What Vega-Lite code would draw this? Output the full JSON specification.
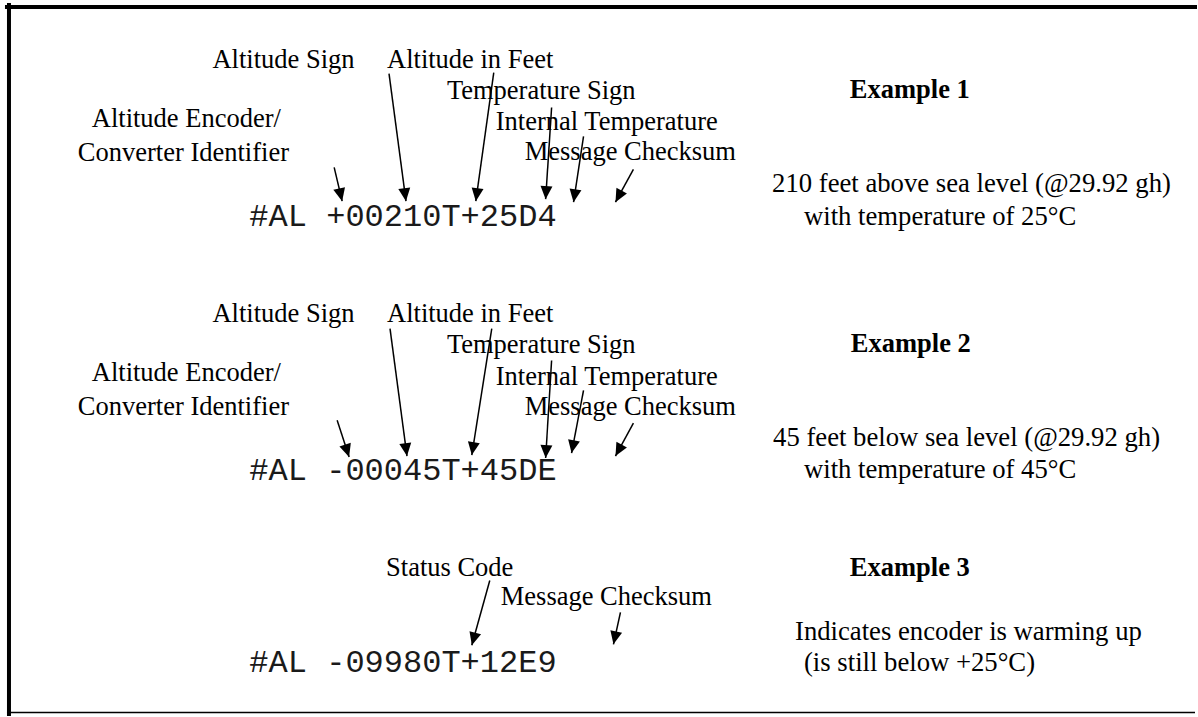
{
  "$schema": "https://vega.github.io/schema/vega-lite/v6.json",
  "width": 1198,
  "height": 717,
  "autosize": {"type": "fit", "contains": "padding"},
  "padding": 0,
  "background": "white",
  "config": {"view": {"stroke": null}},
  "datasets": {
    "frame": [
      {"edge": "thick", "x": 7, "y": 7, "x2": 1198, "y2": 7},
      {"edge": "thick", "x": 9, "y": 5, "x2": 9, "y2": 717},
      {"edge": "thin", "x": 7, "y": 715.5, "x2": 1198, "y2": 715.5}
    ],
    "arrows": [
      {"x1": 335, "y1": 168, "x2": 343, "y2": 202},
      {"x1": 390, "y1": 74, "x2": 407, "y2": 202},
      {"x1": 495, "y1": 73, "x2": 477, "y2": 202},
      {"x1": 553, "y1": 108, "x2": 547, "y2": 200},
      {"x1": 585, "y1": 137, "x2": 575, "y2": 203},
      {"x1": 635, "y1": 170, "x2": 617, "y2": 203},
      {"x1": 338, "y1": 422, "x2": 350, "y2": 459},
      {"x1": 391, "y1": 330, "x2": 408, "y2": 458},
      {"x1": 493, "y1": 330, "x2": 473, "y2": 457},
      {"x1": 553, "y1": 362, "x2": 547, "y2": 460},
      {"x1": 585, "y1": 392, "x2": 573, "y2": 455},
      {"x1": 635, "y1": 425, "x2": 617, "y2": 458},
      {"x1": 491, "y1": 583, "x2": 473, "y2": 648},
      {"x1": 622, "y1": 615, "x2": 615, "y2": 647}
    ],
    "texts": [
      {"kind": "label", "label": "Altitude Sign", "x": 213, "y": 68},
      {"kind": "label", "label": "Altitude in Feet", "x": 388, "y": 68},
      {"kind": "label", "label": "Temperature Sign", "x": 448, "y": 99},
      {"kind": "label", "label": "Altitude Encoder/", "x": 92, "y": 128},
      {"kind": "label", "label": "Internal Temperature", "x": 497, "y": 131},
      {"kind": "label", "label": "Converter Identifier", "x": 78, "y": 162},
      {"kind": "label", "label": "Message Checksum", "x": 526, "y": 161},
      {"kind": "label", "label": "Altitude Sign", "x": 213, "y": 323},
      {"kind": "label", "label": "Altitude in Feet", "x": 388, "y": 323},
      {"kind": "label", "label": "Temperature Sign", "x": 448, "y": 354},
      {"kind": "label", "label": "Altitude Encoder/", "x": 92, "y": 383},
      {"kind": "label", "label": "Internal Temperature", "x": 497, "y": 387},
      {"kind": "label", "label": "Converter Identifier", "x": 78, "y": 417},
      {"kind": "label", "label": "Message Checksum", "x": 526, "y": 417},
      {"kind": "label", "label": "Status Code", "x": 387, "y": 578},
      {"kind": "label", "label": "Message Checksum", "x": 502, "y": 608},
      {"kind": "heading", "label": "Example 1", "x": 852, "y": 98},
      {"kind": "heading", "label": "Example 2", "x": 853, "y": 353},
      {"kind": "heading", "label": "Example 3", "x": 852, "y": 578},
      {"kind": "code", "label": "#AL +00210T+25D4", "x": 250, "y": 227},
      {"kind": "code", "label": "#AL -00045T+45DE", "x": 250, "y": 482},
      {"kind": "code", "label": "#AL -09980T+12E9", "x": 250, "y": 675},
      {"kind": "note", "label": "210 feet above sea level (@29.92 gh)", "x": 774, "y": 193},
      {"kind": "note", "label": "with temperature of 25°C", "x": 806, "y": 226},
      {"kind": "note", "label": "45 feet below sea level (@29.92 gh)", "x": 775, "y": 448},
      {"kind": "note", "label": "with temperature of 45°C", "x": 806, "y": 480},
      {"kind": "note", "label": "Indicates encoder is warming up", "x": 797, "y": 643},
      {"kind": "note", "label": "(is still below +25°C)", "x": 806, "y": 674}
    ]
  },
  "layer": [
    {
      "data": {"name": "frame"},
      "transform": [{"filter": "datum.edge === 'thick'"}],
      "mark": {"type": "rule", "color": "black", "strokeWidth": 4, "strokeCap": "square"},
      "encoding": {
        "x": {"field": "x", "type": "quantitative", "scale": {"domain": [0, 1198], "nice": false, "zero": false}, "axis": null},
        "y": {"field": "y", "type": "quantitative", "scale": {"domain": [0, 717], "nice": false, "zero": false, "reverse": true}, "axis": null},
        "x2": {"field": "x2"},
        "y2": {"field": "y2"}
      }
    },
    {
      "data": {"name": "frame"},
      "transform": [{"filter": "datum.edge === 'thin'"}],
      "mark": {"type": "rule", "color": "black", "strokeWidth": 1.6},
      "encoding": {
        "x": {"field": "x", "type": "quantitative", "scale": {"domain": [0, 1198], "nice": false, "zero": false}, "axis": null},
        "y": {"field": "y", "type": "quantitative", "scale": {"domain": [0, 717], "nice": false, "zero": false, "reverse": true}, "axis": null},
        "x2": {"field": "x2"},
        "y2": {"field": "y2"}
      }
    },
    {
      "data": {"name": "arrows"},
      "mark": {"type": "rule", "color": "black", "strokeWidth": 1.5},
      "encoding": {
        "x": {"field": "x1", "type": "quantitative", "scale": {"domain": [0, 1198], "nice": false, "zero": false}, "axis": null},
        "y": {"field": "y1", "type": "quantitative", "scale": {"domain": [0, 717], "nice": false, "zero": false, "reverse": true}, "axis": null},
        "x2": {"field": "x2"},
        "y2": {"field": "y2"}
      }
    },
    {
      "data": {"name": "arrows"},
      "transform": [{"calculate": "atan2(-(datum.x2 - datum.x1), datum.y2 - datum.y1) * 180 / PI", "as": "ang"}],
      "mark": {"type": "point", "shape": "M-0.46,-1L0.46,-1L0,0Z", "filled": true, "size": 676, "color": "black", "opacity": 1, "strokeWidth": 0},
      "encoding": {
        "x": {"field": "x2", "type": "quantitative", "scale": {"domain": [0, 1198], "nice": false, "zero": false}, "axis": null},
        "y": {"field": "y2", "type": "quantitative", "scale": {"domain": [0, 717], "nice": false, "zero": false, "reverse": true}, "axis": null},
        "angle": {"field": "ang", "type": "quantitative", "scale": null}
      }
    },
    {
      "data": {"name": "texts"},
      "transform": [{"filter": "datum.kind === 'label'"}],
      "mark": {"type": "text", "font": "Liberation Serif", "fontSize": 26.5, "align": "left", "baseline": "alphabetic", "color": "black"},
      "encoding": {
        "x": {"field": "x", "type": "quantitative", "scale": {"domain": [0, 1198], "nice": false, "zero": false}, "axis": null},
        "y": {"field": "y", "type": "quantitative", "scale": {"domain": [0, 717], "nice": false, "zero": false, "reverse": true}, "axis": null},
        "text": {"field": "label"}
      }
    },
    {
      "data": {"name": "texts"},
      "transform": [{"filter": "datum.kind === 'heading'"}],
      "mark": {"type": "text", "font": "Liberation Serif", "fontSize": 26.5, "fontWeight": "bold", "align": "left", "baseline": "alphabetic", "color": "black"},
      "encoding": {
        "x": {"field": "x", "type": "quantitative", "scale": {"domain": [0, 1198], "nice": false, "zero": false}, "axis": null},
        "y": {"field": "y", "type": "quantitative", "scale": {"domain": [0, 717], "nice": false, "zero": false, "reverse": true}, "axis": null},
        "text": {"field": "label"}
      }
    },
    {
      "data": {"name": "texts"},
      "transform": [{"filter": "datum.kind === 'note'"}],
      "mark": {"type": "text", "font": "Liberation Serif", "fontSize": 26.7, "align": "left", "baseline": "alphabetic", "color": "black"},
      "encoding": {
        "x": {"field": "x", "type": "quantitative", "scale": {"domain": [0, 1198], "nice": false, "zero": false}, "axis": null},
        "y": {"field": "y", "type": "quantitative", "scale": {"domain": [0, 717], "nice": false, "zero": false, "reverse": true}, "axis": null},
        "text": {"field": "label"}
      }
    },
    {
      "data": {"name": "texts"},
      "transform": [{"filter": "datum.kind === 'code'"}],
      "mark": {"type": "text", "font": "Liberation Mono", "fontSize": 32, "align": "left", "baseline": "alphabetic", "color": "#1a1a1a"},
      "encoding": {
        "x": {"field": "x", "type": "quantitative", "scale": {"domain": [0, 1198], "nice": false, "zero": false}, "axis": null},
        "y": {"field": "y", "type": "quantitative", "scale": {"domain": [0, 717], "nice": false, "zero": false, "reverse": true}, "axis": null},
        "text": {"field": "label"}
      }
    }
  ]
}
